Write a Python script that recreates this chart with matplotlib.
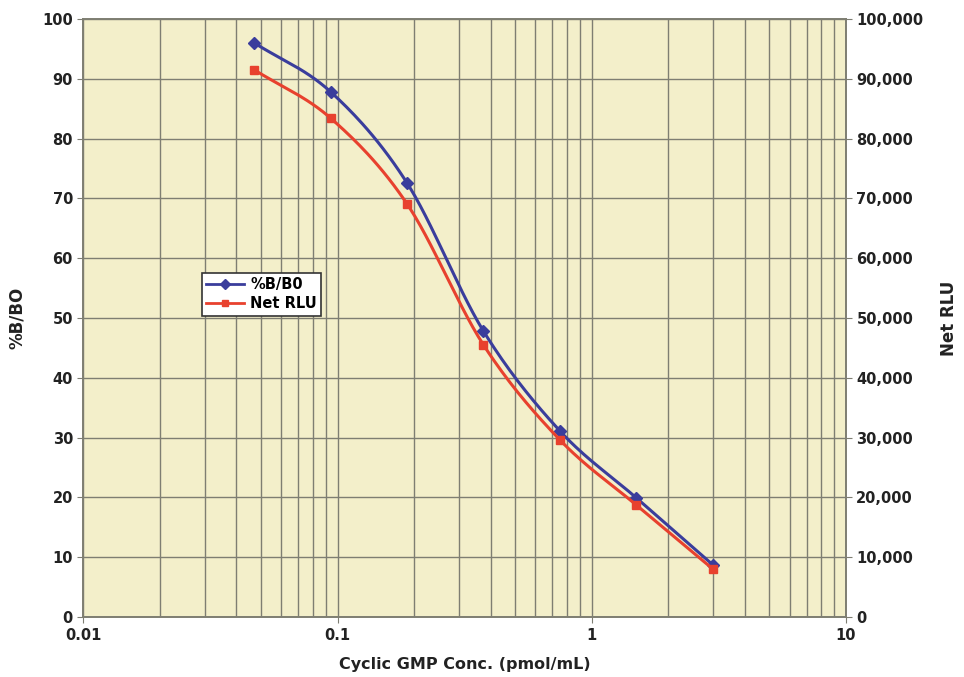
import numpy as np
import matplotlib
matplotlib.use("Agg")
import matplotlib.pyplot as plt
from matplotlib.ticker import FuncFormatter, FixedLocator, NullFormatter

# ----------------------------
# Datos
# ----------------------------
conc = [0.047, 0.094, 0.1875, 0.375, 0.75, 1.5, 3.0]
pct_b_b0 = [96.0, 87.8, 72.6, 47.8, 31.1, 19.9, 8.7]
net_rlu = [91500, 83400, 69100, 45500, 29600, 18700, 8000]

x_ticks = [0.01, 0.1, 1, 10]
x_tick_labels = ["0.01", "0.1", "1", "10"]
left_ticks = list(range(0, 101, 10))
right_ticks = list(range(0, 100001, 10000))

BG = "#F3EFCA"
GRID = "#7E7E72"
BLUE = "#3A3D9C"
RED = "#E8412E"


def smooth(xs, ys, n=30):
    # Catmull-Rom en espacio log(x), como el suavizado de Excel
    lx = np.log10(xs)
    ys = np.asarray(ys, dtype=float)
    px = np.concatenate([[2 * lx[0] - lx[1]], lx, [2 * lx[-1] - lx[-2]]])
    py = np.concatenate([[2 * ys[0] - ys[1]], ys, [2 * ys[-1] - ys[-2]]])
    out_x, out_y = [], []
    t = np.linspace(0, 1, n)
    for i in range(1, len(px) - 2):
        for p, o in ((px, out_x), (py, out_y)):
            p0, p1, p2, p3 = p[i - 1], p[i], p[i + 1], p[i + 2]
            seg = 0.5 * ((2 * p1) + (-p0 + p2) * t
                         + (2 * p0 - 5 * p1 + 4 * p2 - p3) * t ** 2
                         + (-p0 + 3 * p1 - 3 * p2 + p3) * t ** 3)
            o.extend(seg)
    return 10 ** np.array(out_x), np.array(out_y)


plt.rcParams['font.family'] = ['DejaVu Sans']
fig = plt.figure(figsize=(9.64, 6.77), dpi=100)
ax = fig.add_axes([0.0865, 0.0886, 0.791, 0.8834])
ax.set_facecolor(BG)
ax.set_xscale("log")
ax.set_xlim(0.01, 10)
ax.set_ylim(0, 100)

ax2 = ax.twinx()
ax2.set_ylim(0, 100000)

# rejilla
ax.grid(True, which="both", axis="x", color=GRID, lw=1.0)
ax.grid(True, which="major", axis="y", color=GRID, lw=1.0)
ax.set_axisbelow(True)

ax.xaxis.set_major_locator(FixedLocator(x_ticks))
ax.set_xticklabels(x_tick_labels)
ax.xaxis.set_minor_formatter(NullFormatter())
ax.set_yticks(left_ticks)
ax2.set_yticks(right_ticks)
ax2.yaxis.set_major_formatter(FuncFormatter(lambda v, p: f"{int(v):,}"))

for a in (ax, ax2):
    for s in a.spines.values():
        s.set_color(GRID)
        s.set_linewidth(1.2)
    a.tick_params(axis="both", which="both", length=4, color=GRID, labelsize=10.5,
                  labelcolor="#222222")
ax.tick_params(axis="x", which="minor", length=0)
ax.tick_params(axis="x", which="major", pad=4)
for lbl in ax.get_xticklabels() + ax.get_yticklabels() + ax2.get_yticklabels():
    lbl.set_fontweight("bold")

# curvas
sx, sy = smooth(conc, pct_b_b0)
rx, ry = smooth(conc, net_rlu)
ax.plot(sx, sy, color=BLUE, lw=2.2, zorder=3)
ax.plot(conc, pct_b_b0, "D", color=BLUE, ms=6, zorder=4)
ax2.plot(rx, ry, color=RED, lw=2.2, zorder=3)
ax2.plot(conc, net_rlu, "s", color=RED, ms=6, zorder=4)

h1, = ax.plot([], [], color=BLUE, lw=2, marker="D", ms=5)
h2, = ax.plot([], [], color=RED, lw=2, marker="s", ms=5)
leg = ax.legend([h1, h2], ["%B/B0", "Net RLU"], loc="upper left",
                bbox_to_anchor=(0.146, 0.588), frameon=True, fancybox=False,
                framealpha=1, edgecolor="#333333", handlelength=2.6,
                borderpad=0.3, labelspacing=0.3, handletextpad=0.4,
                prop={"weight": "bold", "size": 10.5})
leg.get_frame().set_linewidth(1.2)
leg.set_zorder(10)

ax.set_xlabel("Cyclic GMP Conc. (pmol/mL)", fontsize=11.5, fontweight="bold",
              color="#222222", labelpad=10)
ax.set_ylabel("%B/BO", fontsize=12, fontweight="bold", color="#222222", labelpad=12)
ax2.set_ylabel("Net RLU", fontsize=12, fontweight="bold", color="#222222", labelpad=12)

fig.savefig("out.png", dpi=100)
